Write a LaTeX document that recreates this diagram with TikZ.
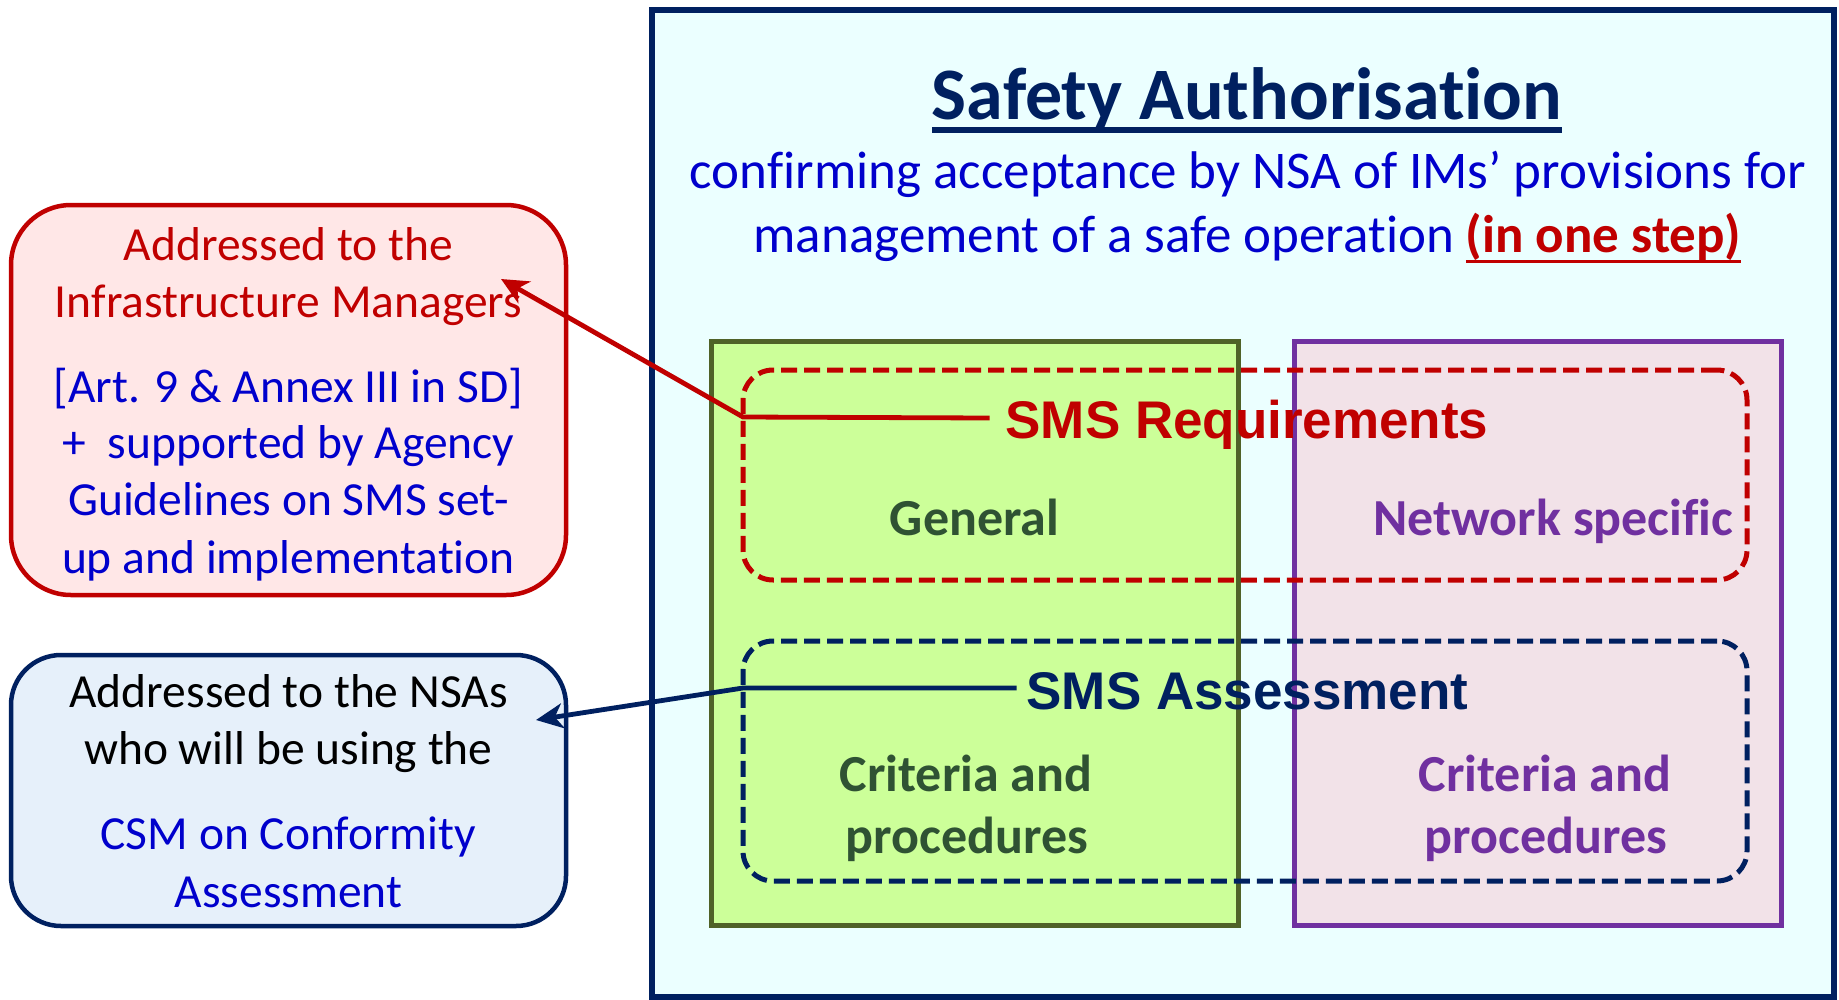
\documentclass[tikz,border=0pt]{standalone}
\usepackage{fontspec}
\setmainfont{Carlito}[Ligatures={CommonOff,ContextualOff}]
\newfontfamily\arialf{Liberation Sans}
\usetikzlibrary{arrows.meta}
\definecolor{navy}{HTML}{002060}
\definecolor{dred}{HTML}{C00000}
\definecolor{tblue}{HTML}{0000CC}
\definecolor{bigfill}{HTML}{EBFFFF}
\definecolor{redfill}{HTML}{FFE7E7}
\definecolor{bluefill}{HTML}{E6F0FA}
\definecolor{gfill}{HTML}{CCFF99}
\definecolor{gborder}{HTML}{4F6228}
\definecolor{pfill}{HTML}{F2E2E8}
\definecolor{pborder}{HTML}{7030A0}
\definecolor{gtext}{HTML}{2F5233}
\newcommand{\myul}[3]{\setbox0\hbox{#3}\rlap{\rule[-#2]{\wd0}{#1}}\box0}
\begin{document}
\begin{tikzpicture}[x=1pt,y=-1pt,
  boxnode/.style={inner sep=0pt, outer sep=0pt},
  txt/.style={inner sep=0pt, outer sep=0pt, anchor=base},
  side/.style={font=\fontsize{47.5}{57}\selectfont},
  sub/.style={font=\fontsize{53}{64}\selectfont, text=tblue},
  inner/.style={font=\fontsize{52}{62}\selectfont\bfseries},
  smslabel/.style={font=\arialf\fontsize{53}{64}\selectfont\bfseries},
  conn/.style={line width=4.8pt},
  tip/.style={-{Stealth[length=27pt,width=25pt,inset=8pt]}}
]
\useasboundingbox (0,0) rectangle (1839,999);

% main box
\node[boxnode, draw=navy, fill=bigfill, line width=6pt, minimum width=1182, minimum height=987] (main) at (1243,503.5) {};

% left boxes
\node[boxnode, draw=dred, fill=redfill, line width=4.5pt, rounded corners=60pt, minimum width=555, minimum height=390] (imbox) at (288.5,400) {};
\node[boxnode, draw=navy, fill=bluefill, line width=4.5pt, rounded corners=50pt, minimum width=555, minimum height=271] (nsabox) at (288.5,790.5) {};

% inner rectangles
\node[boxnode, draw=gborder, fill=gfill, line width=5pt, minimum width=527, minimum height=584] (gen) at (974.5,633) {};
\node[boxnode, draw=pborder, fill=pfill, line width=5pt, minimum width=487, minimum height=584] (net) at (1537.5,633) {};

% dashed groups
\node[boxnode, draw=dred, line width=5pt, dash pattern=on 16pt off 7pt, rounded corners=30pt, minimum width=1004, minimum height=210] (req) at (1245,475) {};
\node[boxnode, draw=navy, line width=5pt, dash pattern=on 16pt off 7pt, rounded corners=30pt, minimum width=1004, minimum height=240] (ass) at (1245,761) {};

% title
\node[txt, font=\fontsize{74}{80}\selectfont\bfseries, text=navy] (title) at (1247,119) {\myul{6.5pt}{14pt}{Safety Authorisation}};
\node[txt, sub] (sub1) at (1248,188) {confirming acceptance by NSA of IMs’ provisions for};
\node[txt, sub] (sub2) at (1247.5,252) {management of a safe operation \textcolor{dred}{\bfseries\myul{3.5pt}{11pt}{(in one step)}}};

% SMS labels
\node[txt, smslabel, text=dred] (smsreq) at (1247,438) {SMS Requirements};
\node[txt, smslabel, text=navy] (smsass) at (1247.5,709) {SMS Assessment};

% inner texts
\node[txt, inner, text=gtext] (general) at (974.5,535) {General};
\node[txt, inner, text=pborder] (netspec) at (1553.5,535) {Network specific};
\node[txt, inner, text=gtext] (crit1) at (966,791) {Criteria and};
\node[txt, inner, text=gtext] (proc1) at (967,853) {procedures};
\node[txt, inner, text=pborder] (crit2) at (1545,791) {Criteria and};
\node[txt, inner, text=pborder] (proc2) at (1546,853) {procedures};

% left texts
\node[txt, side, text=dred] (im1) at (288.5,260) {Addressed to the};
\node[txt, side, text=dred] (im2) at (288.5,317) {Infrastructure Managers};
\node[txt, side, text=tblue] (im3) at (288.5,402) {[Art. 9 \& Annex III in SD]};
\node[txt, side, text=tblue] (im4) at (288.5,458) {+\ \ supported by Agency};
\node[txt, side, text=tblue] (im5) at (288.5,515) {Guidelines on SMS set-};
\node[txt, side, text=tblue] (im6) at (288.5,573) {up and implementation};

\node[txt, side, text=black] (ns1) at (288.5,707) {Addressed to the NSAs};
\node[txt, side, text=black] (ns2) at (288.5,764) {who will be using the};
\node[txt, side, text=tblue] (ns3) at (288.5,849) {CSM on Conformity};
\node[txt, side, text=tblue] (ns4) at (288.5,907) {Assessment};

% connectors
\coordinate (rbend) at (743,417);
\coordinate (rtip) at (501,279);
\coordinate (bbend) at (743,688);
\coordinate (btip) at (536,720);
\draw[conn, dred, tip] ([xshift=-16pt,yshift=20pt]smsreq.base west) -- (rbend) -- (rtip);
\draw[conn, navy, tip] ([xshift=-10pt,yshift=21pt]smsass.base west) -- (bbend) -- (btip);
\end{tikzpicture}
\end{document}
